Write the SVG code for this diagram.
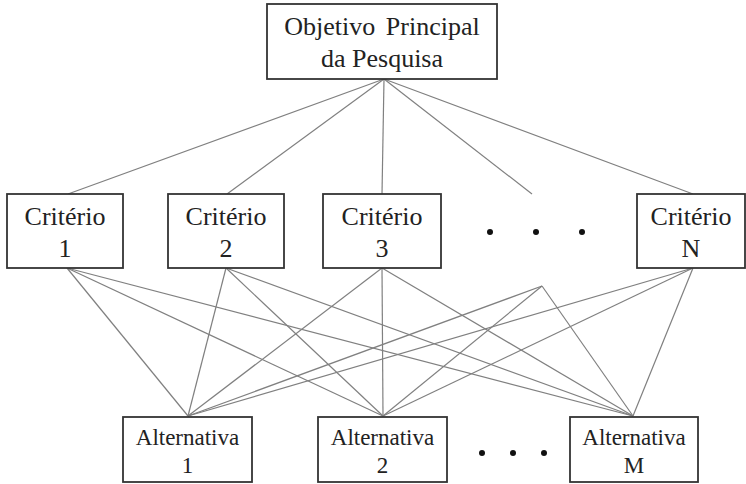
<svg xmlns="http://www.w3.org/2000/svg" width="746" height="484" viewBox="0 0 746 484">
<style>
.box{fill:#fff;stroke:#333;stroke-width:1.8}
.t{font-family:'Liberation Serif','DejaVu Serif',serif;fill:#222;text-anchor:middle}
.c{font-size:26px}
.a{font-size:23px}
.ln{stroke:#808080;stroke-width:1.2;fill:none}
.dot{fill:#111}
</style>
<rect width="746" height="484" fill="#fff"/>
<g id="connectors">
<line class="ln" x1="384" y1="79" x2="68" y2="194"/>
<line class="ln" x1="384" y1="79" x2="227" y2="194"/>
<line class="ln" x1="384" y1="79" x2="382" y2="194"/>
<line class="ln" x1="384" y1="79" x2="532" y2="194"/>
<line class="ln" x1="384" y1="79" x2="693" y2="194"/>
<line class="ln" x1="67" y1="268" x2="188" y2="416"/>
<line class="ln" x1="67" y1="268" x2="383" y2="416"/>
<line class="ln" x1="67" y1="268" x2="633" y2="416"/>
<line class="ln" x1="226" y1="268" x2="188" y2="416"/>
<line class="ln" x1="226" y1="268" x2="383" y2="416"/>
<line class="ln" x1="226" y1="268" x2="633" y2="416"/>
<line class="ln" x1="382" y1="268" x2="188" y2="416"/>
<line class="ln" x1="382" y1="268" x2="383" y2="416"/>
<line class="ln" x1="382" y1="268" x2="633" y2="416"/>
<line class="ln" x1="542" y1="286" x2="188" y2="416"/>
<line class="ln" x1="542" y1="286" x2="383" y2="416"/>
<line class="ln" x1="542" y1="286" x2="633" y2="416"/>
<line class="ln" x1="693" y1="268" x2="188" y2="416"/>
<line class="ln" x1="693" y1="268" x2="383" y2="416"/>
<line class="ln" x1="693" y1="268" x2="633" y2="416"/>
</g>
<g id="objetivo">
<rect class="box" x="267" y="4" width="230" height="75"/>
<text class="t c" x="382" y="35" word-spacing="4">Objetivo Principal</text>
<text class="t c" x="382" y="67">da Pesquisa</text>
</g>
<g id="criterio1">
<rect class="box" x="7" y="194" width="116" height="74"/>
<text class="t c" x="65" y="225">Critério</text>
<text class="t c" x="65" y="257">1</text>
</g>
<g id="criterio2">
<rect class="box" x="168" y="194" width="116" height="74"/>
<text class="t c" x="226" y="225">Critério</text>
<text class="t c" x="226" y="257">2</text>
</g>
<g id="criterio3">
<rect class="box" x="323" y="194" width="118" height="74"/>
<text class="t c" x="382" y="225">Critério</text>
<text class="t c" x="382" y="257">3</text>
</g>
<g id="criterio-dots">
<circle class="dot" cx="490" cy="232" r="3"/>
<circle class="dot" cx="536" cy="232" r="3"/>
<circle class="dot" cx="582" cy="232" r="3"/>
</g>
<g id="criterioN">
<rect class="box" x="637" y="194" width="108" height="74"/>
<text class="t c" x="691" y="225">Critério</text>
<text class="t c" x="691" y="257">N</text>
</g>
<g id="alternativa1">
<rect class="box" x="123" y="417" width="129" height="65"/>
<text class="t a" x="187.5" y="445">Alternativa</text>
<text class="t a" x="187.5" y="473">1</text>
</g>
<g id="alternativa2">
<rect class="box" x="318" y="417" width="129" height="65"/>
<text class="t a" x="382.5" y="445">Alternativa</text>
<text class="t a" x="382.5" y="473">2</text>
</g>
<g id="alternativa-dots">
<circle class="dot" cx="482" cy="453" r="3"/>
<circle class="dot" cx="513" cy="453" r="3"/>
<circle class="dot" cx="544" cy="453" r="3"/>
</g>
<g id="alternativaM">
<rect class="box" x="570" y="417" width="128" height="65"/>
<text class="t a" x="634" y="445">Alternativa</text>
<text class="t a" x="634" y="473">M</text>
</g>
</svg>
